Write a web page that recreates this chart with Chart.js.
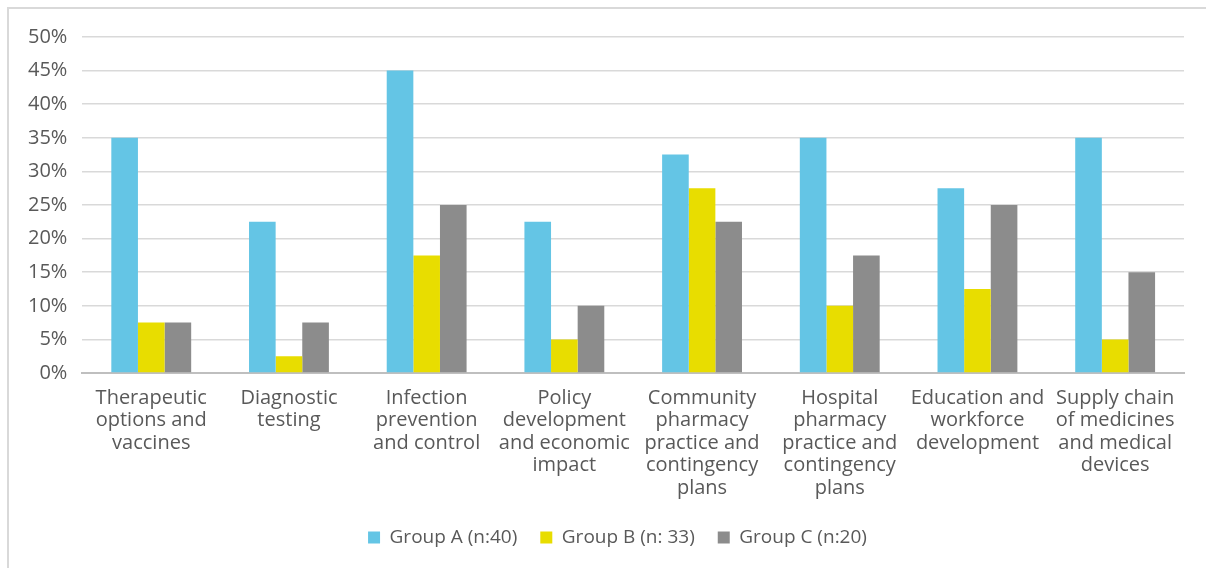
<!DOCTYPE html>
<html>
<head>
<meta charset="utf-8">
<script src="https://cdn.jsdelivr.net/npm/chart.js@4.4.1/dist/chart.umd.min.js"></script>
<style>
  html, body { margin: 0; padding: 0; background: #fff; }
  #wrap { position: relative; width: 1206px; height: 568px; }
  #frame { position: absolute; left: 7px; top: 7px; right: 0; bottom: 0;
           border-left: 2px solid #d9d9d9; border-top: 2px solid #d9d9d9; }
  canvas { position: absolute; left: 0; top: 0; }
</style>
</head>
<body>
<div id="wrap">
  <div id="frame"></div>
  <canvas id="chart" width="1206" height="568"></canvas>
</div>
<script>
// Categories (multi-line labels as shown under the axis)
const categories = [
  ['Therapeutic', 'options and', 'vaccines'],
  ['Diagnostic', 'testing'],
  ['Infection', 'prevention', 'and control'],
  ['Policy', 'development', 'and economic', 'impact'],
  ['Community', 'pharmacy', 'practice and', 'contingency', 'plans'],
  ['Hospital', 'pharmacy', 'practice and', 'contingency', 'plans'],
  ['Education and', 'workforce', 'development'],
  ['Supply chain', 'of medicines', 'and medical', 'devices']
];

// Series values (percent)
const groupA = [35, 22.5, 45, 22.5, 32.5, 35, 27.5, 35];
const groupB = [7.5, 2.5, 17.5, 5, 27.5, 10, 12.5, 5];
const groupC = [7.5, 7.5, 25, 10, 22.5, 17.5, 25, 15];

const seriesNames = ['Group A (n:40)', 'Group B (n: 33)', 'Group C (n:20)'];
const seriesColors = ['#64c5e5', '#e8dd00', '#8c8c8c'];

const textColor = '#595959';
const fontFamily = '"Open Sans", sans-serif';

// nudge the legend a little to the right, like the original
const legendShift = {
  id: 'legendShift',
  afterLayout(chart) {
    if (chart.legend) {
      chart.legend.left += 19;
      chart.legend.right += 19;
    }
  }
};

new Chart(document.getElementById('chart'), {
  type: 'bar',
  data: {
    labels: categories,
    datasets: [groupA, groupB, groupC].map((vals, i) => ({
      label: seriesNames[i],
      data: vals,
      backgroundColor: seriesColors[i],
      borderWidth: 0,
      categoryPercentage: 0.58,
      barPercentage: 1.0
    }))
  },
  options: {
    responsive: false,
    animation: false,
    layout: { padding: { left: 13, right: 22, top: 37, bottom: 11 } },
    plugins: {
      tooltip: { enabled: false },
      legend: {
        position: 'bottom',
        labels: {
          boxWidth: 12,
          boxHeight: 12,
          padding: 23,
          color: textColor,
          font: { family: fontFamily, size: 19 }
        }
      }
    },
    scales: {
      x: {
        grid: { display: false },
        border: { color: '#bfbfbf', width: 2 },
        ticks: {
          color: textColor,
          maxRotation: 0,
          autoSkip: false,
          padding: 6,
          font: { family: fontFamily, size: 20, lineHeight: 1.12 }
        }
      },
      y: {
        min: 0,
        max: 50,
        grid: { color: '#d9d9d9', lineWidth: 1.5, drawTicks: false },
        border: { display: false },
        ticks: {
          stepSize: 5,
          padding: 15,
          color: textColor,
          font: { family: fontFamily, size: 20 },
          callback: v => v + '%'
        }
      }
    }
  },
  plugins: [legendShift]
});
</script>
</body>
</html>
